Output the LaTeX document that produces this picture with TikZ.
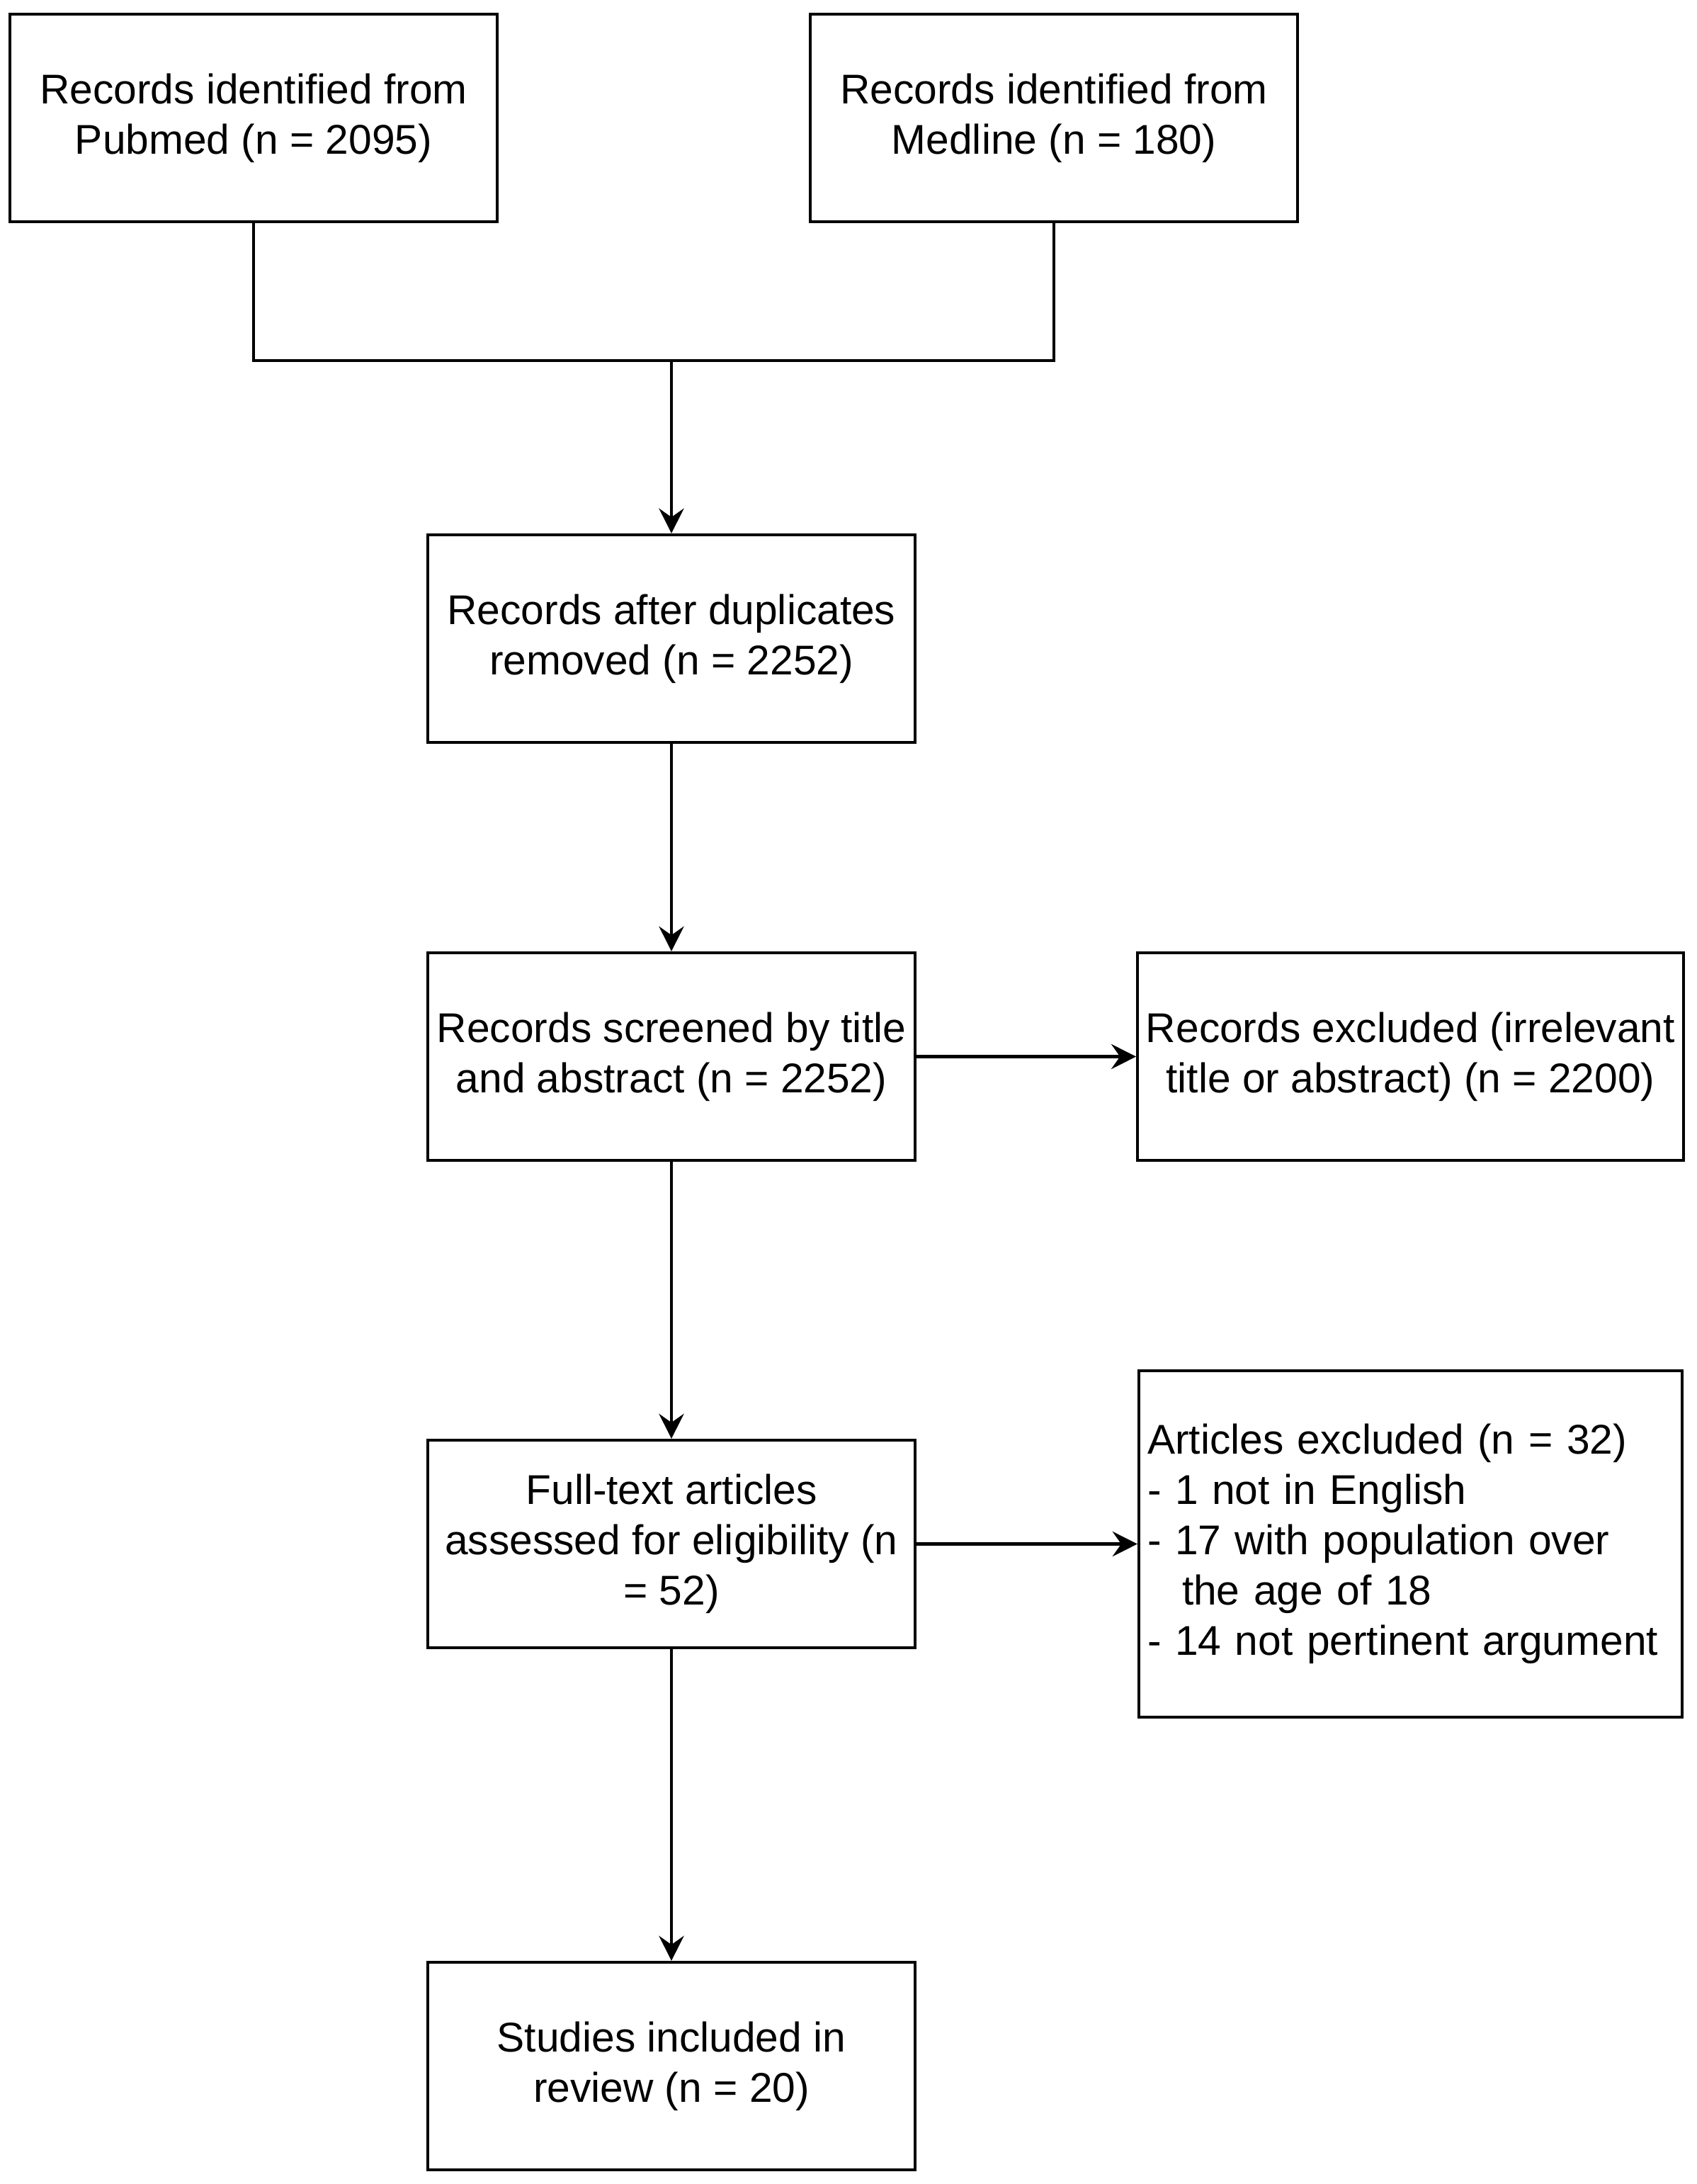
\documentclass[tikz,border=0pt]{standalone}
\usepackage{fontspec}
\setmainfont{Liberation Sans}
\usetikzlibrary{arrows.meta}

\begin{document}
\begin{tikzpicture}[
    box/.style={draw, line width=1.2pt, rectangle, minimum width=6.88cm, minimum height=2.93cm,
        align=center, font=\fontsize{16.7}{20.2}\selectfont},
    arr/.style={line width=1.2pt, -{Stealth[length=10pt, width=10pt, inset=3.5pt]}}]
    \useasboundingbox (0, 0) rectangle (23.96, -30.83);
    % sources
    \node[box] (pub) at (3.58, -1.665) {Records identified from\\Pubmed (n = 2095)};
    \node[box] (med) at (14.88, -1.665) {Records identified from\\Medline (n = 180)};
    % main column
    \node[box] (dup) at (9.48, -9.015) {Records after duplicates\\removed (n = 2252)};
    \node[box] (scr) at (9.48, -14.915) {Records screened by title\\and abstract (n = 2252)};
    \node[box] (full) at (9.48, -21.795) {Full-text articles\\assessed for eligibility (n\\= 52)};
    \node[box] (stu) at (9.48, -29.165) {Studies included in\\review (n = 20)};
    % exclusions
    \node[box, minimum width=7.67cm] (exc) at (19.915, -14.915) {Records excluded (irrelevant\\title or abstract) (n = 2200)};
    \node[box, minimum height=4.89cm, text width=7.43cm, inner xsep=0.12cm, align=left] (art) at (19.915, -21.795)
        {Articles excluded (n = 32)\\- 1 not in English\\- 17 with population over\\\hspace*{0.49cm}the age of 18\\- 14 not pertinent argument};
    % connectors
    \coordinate (join) at (9.48, -5.09);
    \draw[line width=1.2pt] (pub.south) |- (join) -| (med.south);
    \draw[arr] (join) -- (dup);
    \draw[arr] (dup) -- (scr);
    \draw[arr] (scr) -- (exc);
    \draw[arr] (scr) -- (full);
    \draw[arr] (full) -- (art);
    \draw[arr] (full) -- (stu);
\end{tikzpicture}
\end{document}
